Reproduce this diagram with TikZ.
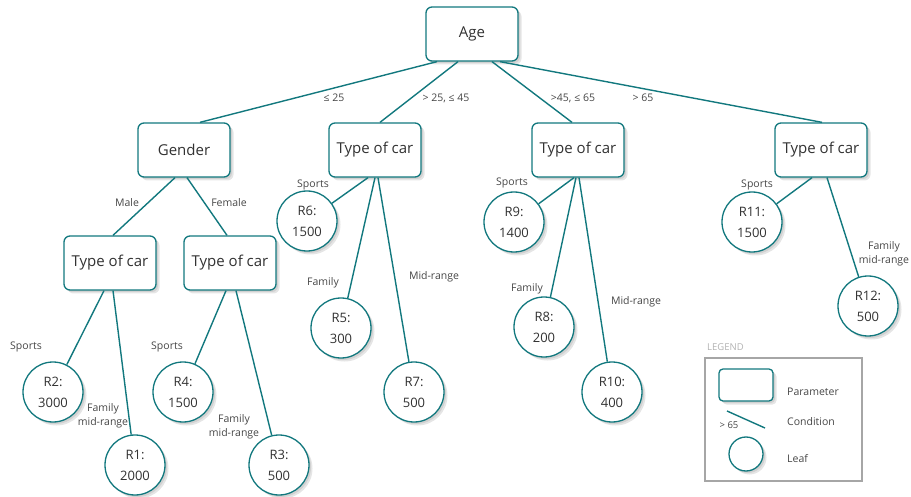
\documentclass[tikz,border=0pt]{standalone}
\usepackage{fontspec}
\setmainfont{Open Sans}
\usetikzlibrary{calc}
\definecolor{condteal}{RGB}{18,120,126}
\definecolor{txtgray}{RGB}{50,50,50}
\definecolor{lblgray}{RGB}{70,70,70}
\tikzset{
  softshadow/.style={
    preaction={fill=black!10, transform canvas={xshift=3.5pt, yshift=-3.5pt}},
    preaction={fill=black!18, transform canvas={xshift=2pt, yshift=-2pt}}}
}

\begin{document}
\begin{tikzpicture}[x=1pt,y=-1pt,
  param/.style={draw=condteal, line width=1.3pt, fill=white, rounded corners=6pt, minimum width=92pt, minimum height=54pt, font=\fontsize{15}{18}\selectfont, text=txtgray, softshadow},
  leaf/.style={draw=condteal, line width=1.3pt, fill=white, circle, minimum size=60pt, inner sep=0pt, align=center, font=\fontsize{13}{21}\selectfont, text=txtgray, softshadow},
  cond/.style={draw=condteal, line width=1.4pt},
  lbl/.style={font=\fontsize{10.5}{14}\selectfont, text=lblgray, align=center, inner sep=1pt}]
\useasboundingbox (0,0) rectangle (911,497);

% parameters
\node[param] (age) at (472,34) {Age};
\node[param] (gender) at (184,150) {Gender};
\node[param] (car2) at (375,150) {Type of car};
\node[param] (car3) at (578,150) {Type of car};
\node[param] (car4) at (821,150) {Type of car};
\node[param] (carm) at (110,263) {Type of car};
\node[param] (carf) at (230,263) {Type of car};

% leaves
\node[leaf] (r6) at (307,221) {R6:\\1500};
\node[leaf] (r5) at (341,328) {R5:\\300};
\node[leaf] (r7) at (414,392) {R7:\\500};
\node[leaf] (r9) at (514,222) {R9:\\1400};
\node[leaf] (r8) at (544,327) {R8:\\200};
\node[leaf] (r10) at (612,392) {R10:\\400};
\node[leaf] (r11) at (752,222) {R11:\\1500};
\node[leaf] (r12) at (868,306) {R12:\\500};
\node[leaf] (r2) at (53,392) {R2:\\3000};
\node[leaf] (r1) at (135,465) {R1:\\2000};
\node[leaf] (r4) at (183,392) {R4:\\1500};
\node[leaf] (r3) at (279,465) {R3:\\500};

% conditions
\draw[cond] ($(age.south)+(-35,0)$) -- ($(gender.north)+(16,0)$);
\draw[cond] ($(age.south)+(-14,0)$) -- ($(car2.north)+(5,0)$);
\draw[cond] ($(age.south)+(20,0)$) -- ($(car3.north)+(-6,0)$);
\draw[cond] ($(age.south)+(28,0)$) -- ($(car4.north)+(1,0)$);
\draw[cond] ($(gender.south)+(-9,0)$) -- ($(carm.north)+(3,0)$);
\draw[cond] ($(gender.south)+(3,0)$) -- ($(carf.north)+(-3,0)$);
\draw[cond] ($(car2.south)+(-7,0)$) -- (r6);
\draw[cond] ($(car2.south)+(0,0)$) -- (r5);
\draw[cond] ($(car2.south)+(3,0)$) -- (r7);
\draw[cond] ($(car3.south)+(-4,0)$) -- (r9);
\draw[cond] ($(car3.south)+(-2,0)$) -- (r8);
\draw[cond] ($(car3.south)+(1,0)$) -- (r10);
\draw[cond] ($(car4.south)+(-9,0)$) -- (r11);
\draw[cond] ($(car4.south)+(6,0)$) -- (r12);
\draw[cond] ($(carm.south)+(-6,0)$) -- (r2);
\draw[cond] ($(carm.south)+(3,0)$) -- (r1);
\draw[cond] ($(carf.south)+(-4,0)$) -- (r4);
\draw[cond] ($(carf.south)+(6,0)$) -- (r3);

% condition labels
\node[lbl] (c1) at (334,98) {≤ 25};
\node[lbl] (c2) at (446,98) {> 25, ≤ 45};
\node[lbl] (c3) at (573,98) {>45, ≤ 65};
\node[lbl] (c4) at (643,98) {> 65};
\node[lbl] (male) at (127,203) {Male};
\node[lbl] (female) at (229,203) {Female};
\node[lbl] (s6) at (313,185) {Sports};
\node[lbl] (f5) at (323,283) {Family};
\node[lbl] (m7) at (434,277) {Mid-range};
\node[lbl] (s9) at (512,183) {Sports};
\node[lbl] (f8) at (527,289) {Family};
\node[lbl] (m10) at (636,302) {Mid-range};
\node[lbl] (s11) at (757,185) {Sports};
\node[lbl] (f12) at (884,254) {Family\\mid-range};
\node[lbl] (s2) at (26,347) {Sports};
\node[lbl] (f1) at (103,416) {Family\\mid-range};
\node[lbl] (s4) at (167,347) {Sports};
\node[lbl] (f3) at (234,427) {Family\\mid-range};

% legend
\node[anchor=west, inner sep=0pt, text=gray!60, font=\fontsize{9.5}{11}\selectfont] (legtitle) at (707,347) {LEGEND};
\node[draw=gray!70, line width=1.2pt, minimum width=157pt, minimum height=123pt] (legbox) at (783.5,419.5) {};
\node[param, minimum width=54pt, minimum height=32pt, rounded corners=4pt] (legpar) at (746,385) {};
\node[lbl, anchor=west] (legpartxt) at (786,392) {Parameter};
\coordinate (legc1) at (727,411);
\coordinate (legc2) at (765,428);
\draw[cond] (legc1) -- (legc2);
\node[lbl, font=\fontsize{9.5}{11}\selectfont] (legcondval) at (729,425) {> 65};
\node[lbl, anchor=west] (legcondtxt) at (786,422) {Condition};
\node[leaf, minimum size=34pt] (legleaf) at (746,454) {};
\node[lbl, anchor=west] (legleaftxt) at (786,459) {Leaf};
\end{tikzpicture}
\end{document}
